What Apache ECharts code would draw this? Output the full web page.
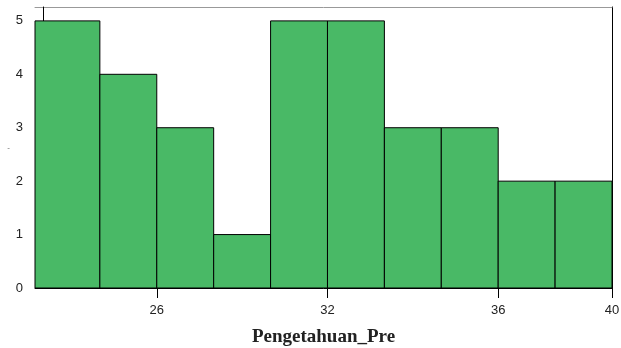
<!DOCTYPE html>
<html><head><meta charset="utf-8">
<script src="https://cdn.jsdelivr.net/npm/echarts@6/dist/echarts.min.js"></script>
<style>html,body{margin:0;padding:0;background:#fff}#c{width:621px;height:348px}</style>
</head><body><div id="c"></div>
<script>
// Bin edges expressed in bin-index units (first bin is clipped by the axis start)
const binStarts = [-0.14, 1, 2, 3, 4, 5, 6, 7, 8, 9];
const binEnds   = [1, 2, 3, 4, 5, 6, 7, 8, 9, 10];
const counts    = [5, 4, 3, 1, 5, 5, 3, 3, 2, 2];
const xTickPositions = [2, 5, 8, 10];
const xTickLabels    = ['26', '32', '36', '40'];
const yTicks = [0, 1, 2, 3, 4, 5];
const xTitle = 'Pengetahuan_Pre';

const data = counts.map((c, i) => [binStarts[i], binEnds[i], c]);
const labelMap = {};
xTickPositions.forEach((p, i) => { labelMap[p] = xTickLabels[i]; });

const chart = echarts.init(document.getElementById('c'), null, {renderer: 'canvas'});
chart.setOption({
  animation: false,
  grid: {left: 35, right: 9, top: 7, bottom: 60, containLabel: false, outerBoundsMode: 'none'},
  xAxis: [{
    type: 'value', min: -0.14, max: 10,
    name: xTitle, nameLocation: 'middle', nameGap: 40,
    nameTextStyle: {fontFamily: 'Liberation Serif', fontWeight: 'bold', fontSize: 19, color: '#222'},
    axisLine: {show: true, lineStyle: {color: '#000', width: 1}},
    axisTick: {show: true, customValues: xTickPositions, length: 10, lineStyle: {color: '#000'}},
    axisLabel: {customValues: xTickPositions, formatter: v => labelMap[v] || '', margin: 16,
      fontFamily: 'Liberation Sans', fontSize: 13, color: '#222'},
    splitLine: {show: false}
  }, {
    type: 'value', min: -0.14, max: 10, position: 'top',
    axisLine: {show: true, onZero: false, lineStyle: {color: '#999', width: 1}},
    axisTick: {show: true, inside: true, customValues: [0], length: 14, lineStyle: {color: '#000'}},
    axisLabel: {show: false}, splitLine: {show: false}
  }],
  yAxis: [{
    type: 'value', min: 0, max: 5.26, interval: 1,
    name: '-', nameLocation: 'middle', nameGap: 25, nameRotate: 0,
    nameTextStyle: {fontSize: 8, color: '#666', padding: [100, 0, 0, 0]},
    axisLine: {show: true, lineStyle: {color: '#000', width: 1}},
    axisTick: {show: true, customValues: yTicks, length: 6, lineStyle: {color: '#000'}},
    axisLabel: {customValues: yTicks, margin: 12, fontFamily: 'Liberation Sans', fontSize: 13, color: '#222'},
    splitLine: {show: false}
  }, {
    type: 'value', min: 0, max: 5.26, position: 'right',
    axisLine: {show: true, onZero: false, lineStyle: {color: '#000', width: 1}},
    axisTick: {show: false}, axisLabel: {show: false}, splitLine: {show: false}
  }],
  series: [{
    type: 'custom',
    xAxisIndex: 0, yAxisIndex: 0,
    data: data,
    encode: {x: [0, 1], y: 2},
    renderItem: function (params, api) {
      const p0 = api.coord([api.value(0), api.value(2)]);
      const p1 = api.coord([api.value(1), 0]);
      return {
        type: 'rect',
        shape: {x: p0[0], y: p0[1], width: p1[0] - p0[0], height: p1[1] - p0[1]},
        style: {fill: '#49b966', stroke: '#000', lineWidth: 1}
      };
    }
  }]
});
</script></body></html>
